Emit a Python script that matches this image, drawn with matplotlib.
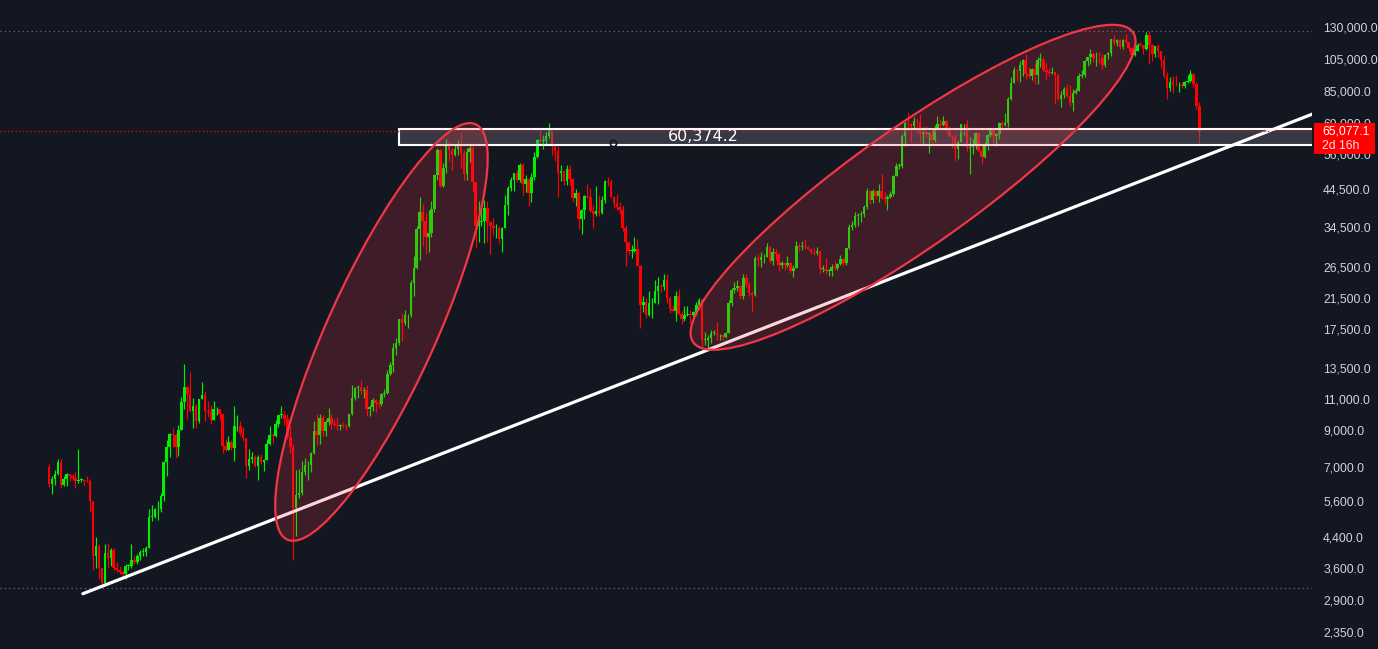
import numpy as np
import matplotlib.pyplot as plt
from matplotlib.patches import Ellipse, Rectangle
from matplotlib.ticker import NullLocator
from matplotlib.transforms import IdentityTransform

# weekly BTC candles from the week of 2018-08-06 to 2026-02-02, in thousands of USD
first_open = 7.03
closes = [
    6.29, 6.49, 6.71, 7.27, 6.25, 6.50, 6.71, 6.60, 6.55, 6.38,
    6.45, 6.45, 6.40, 6.38, 5.60, 3.90, 4.15, 3.60, 3.25, 3.98,
    3.85, 4.05, 3.60, 3.55, 3.50, 3.45, 3.65, 3.65, 3.80, 3.75,
    3.90, 4.00, 4.00, 4.10, 5.05, 5.05, 5.30, 5.30, 5.80, 7.25,
    8.00, 8.75, 8.70, 8.00, 8.95, 10.80, 11.90, 11.40, 10.20, 10.50,
    9.50, 11.00, 11.30, 10.20, 10.10, 9.60, 10.30, 10.30, 9.95, 8.05,
    7.85, 8.30, 7.95, 9.20, 9.20, 8.80, 8.50, 7.05, 7.40, 7.50,
    7.05, 7.50, 7.25, 7.35, 8.20, 8.70, 8.60, 9.35, 9.90, 9.90,
    9.65, 8.55, 8.03, 5.35, 5.85, 5.90, 6.80, 7.10, 7.10, 7.70,
    8.90, 8.70, 9.70, 8.90, 9.45, 9.75, 9.35, 9.30, 9.20, 9.30,
    9.25, 9.20, 9.95, 11.10, 11.85, 11.90, 11.65, 11.70, 10.30, 10.45,
    10.92, 10.75, 10.65, 11.40, 11.50, 13.05, 13.80, 15.50, 16.00, 18.70,
    18.20, 19.20, 19.30, 23.80, 26.30, 34.00, 38.20, 35.80, 32.30, 33.10,
    38.90, 48.60, 57.40, 45.20, 51.00, 59.90, 57.50, 55.80, 58.00, 59.80,
    56.20, 49.10, 56.70, 58.20, 46.40, 34.70, 35.70, 35.80, 39.10, 35.60,
    34.70, 34.20, 34.20, 31.80, 34.30, 39.90, 44.60, 47.00, 49.30, 47.20,
    52.00, 46.00, 47.30, 43.20, 48.20, 54.90, 61.50, 61.00, 61.50, 63.30,
    65.50, 59.00, 57.30, 49.40, 50.10, 46.70, 50.80, 47.30, 41.80, 43.10,
    36.30, 38.50, 42.40, 42.10, 38.30, 37.70, 38.40, 37.80, 41.30, 46.80,
    46.40, 42.20, 40.40, 39.50, 38.50, 34.30, 31.30, 29.40, 29.40, 29.90,
    26.60, 20.60, 21.00, 19.30, 20.80, 20.80, 22.60, 23.30, 23.20, 24.30,
    21.50, 20.00, 19.80, 21.80, 19.40, 18.80, 19.30, 19.40, 19.20, 19.60,
    20.60, 21.30, 16.30, 16.30, 16.50, 17.10, 17.10, 16.80, 16.80, 16.60,
    17.10, 20.90, 22.70, 23.00, 23.30, 21.80, 24.60, 23.60, 22.20, 22.00,
    28.00, 27.80, 28.20, 28.30, 30.30, 27.60, 29.20, 28.90, 26.90, 27.10,
    26.90, 27.10, 25.80, 26.30, 30.50, 30.20, 30.30, 30.20, 29.90, 29.30,
    29.10, 29.40, 26.10, 26.10, 25.80, 25.80, 26.50, 26.20, 27.00, 27.90,
    27.10, 30.00, 34.50, 35.00, 37.10, 37.40, 37.50, 39.50, 43.80, 41.40,
    43.70, 42.30, 43.90, 41.70, 41.60, 42.00, 43.00, 48.30, 51.70, 51.70,
    63.10, 68.90, 68.40, 67.20, 69.60, 69.40, 63.90, 64.90, 63.90, 64.00,
    61.50, 66.30, 68.50, 67.80, 69.60, 66.20, 63.20, 62.70, 58.00, 60.80,
    68.20, 68.30, 58.10, 58.70, 58.90, 64.20, 57.30, 54.90, 59.10, 63.60,
    65.60, 62.90, 63.90, 69.00, 68.00, 68.70, 80.40, 89.80, 98.00, 97.20,
    101.10, 104.50, 95.20, 93.70, 98.30, 94.50, 104.50, 104.70, 97.70, 96.50,
    96.10, 96.30, 94.30, 80.70, 82.60, 86.10, 82.30, 78.40, 83.70, 85.20,
    93.70, 94.30, 104.00, 106.40, 109.00, 105.60, 105.70, 105.50, 100.90, 108.30,
    109.20, 119.80, 117.20, 119.40, 114.20, 119.30, 117.40, 113.40, 108.20, 111.10,
    115.30, 115.20, 112.10, 123.50, 115.20, 108.60, 114.50, 110.60, 104.70, 94.20,
    86.80, 90.40, 88.40, 88.20, 88.60, 87.80, 90.50, 90.90, 95.00, 89.00,
    77.00, 65.08,
]
highs = [
    7.15, 6.60, 6.88, 7.40, 7.41, 6.60, 6.75, 6.70, 6.70, 6.80,
    7.90, 6.55, 6.50, 6.60, 6.50, 5.60, 4.40, 4.20, 3.60, 4.20,
    4.25, 4.10, 4.10, 3.75, 3.65, 3.55, 3.70, 3.70, 4.20, 3.90,
    3.95, 4.05, 4.10, 4.15, 5.30, 5.45, 5.35, 5.60, 5.90, 7.30,
    8.40, 8.80, 9.10, 8.80, 9.30, 11.20, 13.90, 12.00, 13.20, 11.10,
    10.65, 11.00, 12.30, 11.60, 10.90, 10.60, 10.90, 10.45, 10.35, 9.95,
    8.45, 8.65, 8.40, 10.50, 9.90, 9.50, 9.15, 8.50, 7.90, 7.75,
    7.60, 7.60, 7.65, 7.40, 8.45, 9.20, 8.80, 9.60, 9.90, 10.50,
    10.20, 9.95, 9.20, 8.20, 6.90, 6.95, 7.30, 7.45, 7.30, 7.75,
    9.50, 10.00, 9.95, 9.90, 9.60, 10.40, 9.95, 9.65, 9.80, 9.35,
    9.45, 9.35, 10.00, 12.10, 11.90, 12.10, 12.50, 11.90, 12.10, 10.60,
    11.10, 10.99, 10.95, 11.50, 11.75, 13.35, 14.10, 16.00, 16.50, 18.80,
    19.50, 19.90, 19.40, 24.30, 28.40, 34.80, 42.00, 40.20, 37.90, 38.50,
    40.90, 49.00, 58.40, 58.00, 52.60, 61.80, 61.20, 58.30, 60.00, 61.40,
    64.90, 57.50, 58.40, 59.30, 59.60, 45.80, 40.90, 39.50, 41.30, 41.00,
    36.00, 36.60, 35.10, 34.70, 34.50, 42.60, 45.30, 48.10, 49.40, 50.50,
    52.90, 52.90, 48.80, 47.40, 49.20, 56.60, 62.00, 67.00, 63.70, 65.00,
    69.00, 66.30, 59.30, 59.20, 51.90, 50.20, 52.00, 52.10, 47.60, 44.50,
    43.50, 38.90, 42.60, 45.80, 44.80, 39.80, 45.40, 42.60, 42.40, 47.00,
    48.20, 47.50, 42.40, 42.90, 40.80, 40.00, 34.90, 31.30, 30.60, 32.20,
    31.80, 26.90, 21.90, 21.50, 22.50, 21.60, 24.30, 24.70, 23.60, 25.20,
    25.20, 21.90, 20.60, 22.50, 22.80, 19.70, 20.40, 20.40, 19.90, 19.70,
    21.00, 21.50, 21.50, 17.20, 16.80, 17.40, 17.40, 18.40, 17.00, 16.90,
    17.20, 21.30, 23.00, 23.90, 24.30, 23.50, 25.20, 25.30, 23.90, 22.60,
    28.40, 28.90, 29.20, 28.80, 31.00, 30.50, 30.00, 29.80, 29.00, 27.60,
    27.20, 28.40, 27.30, 26.80, 31.40, 31.00, 31.50, 31.80, 30.40, 30.00,
    30.00, 30.20, 29.60, 26.80, 28.10, 26.10, 27.00, 27.50, 27.20, 28.60,
    28.00, 30.00, 35.20, 35.90, 38.00, 37.90, 38.40, 40.00, 44.70, 44.00,
    44.40, 44.20, 45.90, 49.00, 43.60, 42.80, 43.90, 48.60, 52.90, 52.90,
    64.00, 69.20, 73.80, 68.90, 71.80, 71.30, 72.80, 66.90, 67.20, 64.70,
    65.50, 67.70, 71.90, 70.60, 72.00, 70.20, 67.20, 63.40, 63.80, 61.40,
    68.40, 68.50, 70.00, 62.70, 61.80, 65.00, 64.90, 59.80, 60.60, 64.10,
    66.50, 65.50, 64.50, 69.40, 69.50, 73.60, 81.50, 93.50, 99.60, 98.70,
    104.00, 105.00, 108.40, 99.90, 98.90, 102.70, 106.40, 109.60, 106.50, 102.50,
    98.80, 99.50, 96.50, 95.00, 85.30, 87.50, 88.80, 88.50, 86.10, 86.50,
    95.80, 97.90, 104.30, 106.50, 112.00, 110.50, 110.40, 110.50, 108.90, 108.50,
    110.50, 119.90, 123.20, 120.20, 120.00, 120.00, 124.50, 117.60, 113.50, 113.00,
    116.80, 117.90, 115.40, 125.70, 126.20, 115.90, 114.60, 116.40, 110.80, 107.50,
    96.60, 93.10, 94.10, 94.60, 90.30, 90.50, 91.00, 94.80, 97.90, 96.00,
    90.50, 79.00,
]
lows = [
    6.13, 5.88, 6.25, 6.68, 6.10, 6.18, 6.20, 6.40, 6.45, 6.10,
    6.30, 6.35, 6.25, 6.35, 5.20, 3.55, 3.60, 3.35, 3.15, 3.20,
    3.60, 3.65, 3.55, 3.50, 3.45, 3.35, 3.35, 3.55, 3.60, 3.70,
    3.70, 3.80, 3.90, 3.90, 4.10, 4.90, 5.00, 4.95, 5.20, 5.60,
    6.60, 7.50, 8.00, 7.45, 7.55, 8.95, 10.30, 9.65, 10.10, 9.10,
    9.10, 9.40, 11.00, 9.50, 9.80, 9.35, 9.60, 9.90, 9.60, 7.70,
    7.80, 7.85, 7.85, 7.30, 8.90, 8.65, 8.35, 6.55, 6.90, 7.20,
    7.00, 6.45, 7.15, 6.85, 7.35, 8.10, 8.25, 8.55, 9.15, 9.70,
    9.30, 8.45, 7.70, 3.80, 4.45, 5.70, 5.85, 6.65, 6.45, 6.80,
    7.65, 8.10, 8.20, 8.60, 8.60, 9.30, 9.05, 9.20, 8.95, 8.95,
    9.10, 9.00, 9.15, 9.90, 10.95, 11.10, 11.40, 11.10, 9.85, 9.85,
    10.20, 10.10, 10.40, 10.55, 11.20, 11.40, 12.95, 13.20, 14.80, 15.80,
    16.20, 18.00, 17.60, 19.00, 21.80, 26.10, 27.70, 30.40, 28.80, 29.20,
    32.30, 38.00, 47.00, 44.90, 45.00, 49.30, 53.30, 50.40, 55.40, 55.50,
    50.90, 47.00, 47.00, 53.00, 43.80, 30.00, 31.20, 34.80, 31.00, 31.30,
    28.80, 32.70, 32.10, 31.10, 29.30, 34.30, 37.30, 43.80, 43.90, 46.40,
    46.50, 42.80, 43.40, 39.60, 40.80, 47.10, 54.40, 59.50, 57.80, 59.40,
    62.30, 55.60, 53.30, 42.00, 46.70, 45.50, 45.60, 45.70, 40.60, 39.60,
    34.00, 32.90, 36.30, 41.70, 38.00, 34.30, 37.20, 37.20, 37.60, 40.50,
    45.20, 42.10, 39.20, 38.50, 37.70, 33.70, 26.70, 28.60, 28.00, 29.30,
    26.60, 17.60, 19.60, 18.90, 19.10, 18.90, 20.80, 20.70, 22.40, 22.70,
    20.80, 19.50, 19.60, 18.50, 19.30, 18.10, 18.50, 19.10, 18.20, 18.90,
    19.20, 20.00, 15.60, 15.80, 15.50, 16.00, 16.80, 16.30, 16.30, 16.30,
    16.50, 17.10, 20.40, 22.30, 22.50, 21.40, 21.40, 23.10, 21.90, 19.60,
    21.90, 26.60, 26.50, 27.20, 28.20, 27.10, 26.90, 27.70, 25.80, 26.30,
    25.90, 26.50, 25.40, 24.80, 26.20, 29.50, 29.70, 29.90, 29.60, 28.90,
    28.60, 28.70, 25.20, 25.60, 25.30, 24.90, 24.90, 26.00, 25.90, 26.90,
    26.60, 26.90, 29.90, 33.90, 34.50, 34.80, 35.60, 36.90, 39.00, 40.20,
    40.50, 41.50, 40.80, 41.50, 40.30, 38.50, 41.90, 42.30, 48.30, 50.60,
    50.90, 59.00, 64.60, 60.80, 66.60, 64.50, 60.60, 59.60, 62.80, 56.50,
    60.20, 60.60, 66.10, 66.70, 67.60, 65.10, 63.00, 58.40, 53.50, 54.30,
    60.60, 63.50, 57.10, 49.00, 56.10, 57.80, 57.20, 52.50, 54.60, 57.50,
    62.70, 59.80, 58.90, 62.00, 65.10, 67.50, 66.80, 80.20, 89.40, 90.80,
    90.50, 94.20, 92.20, 92.50, 91.20, 89.30, 89.30, 99.50, 96.40, 91.20,
    94.10, 94.90, 78.20, 80.00, 76.60, 81.20, 81.60, 77.10, 74.50, 83.10,
    85.10, 92.80, 93.40, 100.70, 102.00, 103.10, 100.40, 102.60, 98.20, 99.60,
    105.10, 107.50, 115.70, 114.70, 112.00, 112.70, 116.80, 110.70, 107.30, 107.30,
    110.60, 114.60, 108.60, 111.50, 102.00, 103.50, 106.60, 106.30, 98.90, 93.00,
    80.60, 85.30, 83.80, 87.70, 84.50, 86.60, 86.90, 89.50, 90.00, 87.50,
    75.50, 60.40,
]

price_ticks = [130000, 105000, 85000, 69000, 56000, 44500, 34500, 26500, 21500,
               17500, 13500, 11000, 9000, 7000, 5600, 4400, 3600, 2900, 2350]
last_price = 65077.1
countdown = '2d 16h'

# drawings: zone box, its price note, trend line, two ellipses
zone_start = 119.1
zone_low, zone_high = 59600, 66200
zone_label = '60,374.2'
zone_label_at = (222.3, 62800)
zone_point = (191.6, 60374.2)
trend_start = (11.5, 3030)
trend_end = (429.5, 73000)
# center (week, price), half axes in px, tilt in degrees
ellipses = [((113.0, 17200), 228, 54, 65.6),
            ((293.7, 44900), 269, 59.5, 35.2)]

BG = '#131722'
GREEN = '#00f000'
RED = '#ff0000'

closes = np.array(closes) * 1000
highs = np.array(highs) * 1000
lows = np.array(lows) * 1000
opens = np.r_[first_open * 1000, closes[:-1]]  # weekly open = last week's close
idx = np.arange(len(closes))

fig = plt.figure(figsize=(13.78, 6.49), dpi=100, facecolor=BG)
ax = fig.add_axes([0, 0, 1312 / 1378, 1])
ax.set_facecolor(BG)
for s in ax.spines.values():
    s.set_visible(False)
ax.set_yscale('log')

colors = np.where(closes >= opens, GREEN, RED)
ax.vlines(idx, lows, highs, colors=colors, lw=0.85, zorder=3)
bottoms = np.minimum(opens, closes)
heights = np.maximum(np.abs(closes - opens), bottoms * 0.005)
ax.bar(idx, heights, bottom=bottoms, width=0.86, color=colors, linewidth=0, zorder=3)

ax.axhline(highs.max(), color='#787b86', ls=(0, (1, 3)), lw=0.8, zorder=2)
ax.axhline(lows.min(), color='#787b86', ls=(0, (1, 3)), lw=0.8, zorder=2)

ax.add_patch(Rectangle((zone_start, zone_low), 500, zone_high - zone_low,
                       facecolor=(120 / 255, 123 / 255, 134 / 255, 0.35),
                       edgecolor='white', lw=1.5, zorder=4))
ax.axhline(last_price, color='#ff0000', ls=(0, (1, 2)), lw=0.9, zorder=7)
ax.text(zone_label_at[0], zone_label_at[1], zone_label, color='white',
        fontsize=11.5, ha='center', va='center', zorder=8, family='DejaVu Sans')
ax.plot(zone_point[0], zone_point[1], 'o', ms=4.5, mfc='none', mec='#131722',
        mew=1.2, zorder=8)

ax.plot([trend_start[0], trend_end[0]], [trend_start[1], trend_end[1]],
        color='white', lw=2.3, solid_capstyle='round', zorder=5)

ax.set_xlim(-16.66, 429.3)
ax.set_ylim(2100, 155500)

for (cx, cy), a, b, ang in ellipses:
    px, py = ax.transData.transform((cx, cy))
    ax.add_patch(Ellipse((px, py), 2 * a, 2 * b, angle=ang,
                         transform=IdentityTransform(),
                         facecolor=(242 / 255, 54 / 255, 69 / 255, 0.2),
                         edgecolor='#f23645', lw=1.6, zorder=6))

ax.set_xticks([])
ax.yaxis.tick_right()
ax.set_yticks(price_ticks)
ax.set_yticklabels([f'{v:,.1f}' for v in price_ticks], family='Liberation Sans')
ax.yaxis.set_minor_locator(NullLocator())
ax.tick_params(axis='y', length=0, pad=8, labelsize=8.8, labelcolor='#d1d4dc')

# last price tag on the price scale
_, yp = ax.transData.transform((0, last_price))
fig.add_artist(Rectangle((1314, yp - 23), 61, 31, transform=IdentityTransform(),
                         facecolor='#ff0000', edgecolor='none', zorder=10))
fig.text(1322, yp, f'{last_price:,.1f}', transform=IdentityTransform(),
         color='white', fontsize=8.8, va='center', family='Liberation Sans', zorder=11)
fig.text(1322, yp - 15, countdown, transform=IdentityTransform(),
         color='#ffe0e0', fontsize=8.8, va='center', family='Liberation Sans', zorder=11)

fig.savefig('out.png', dpi=100, facecolor=BG)
